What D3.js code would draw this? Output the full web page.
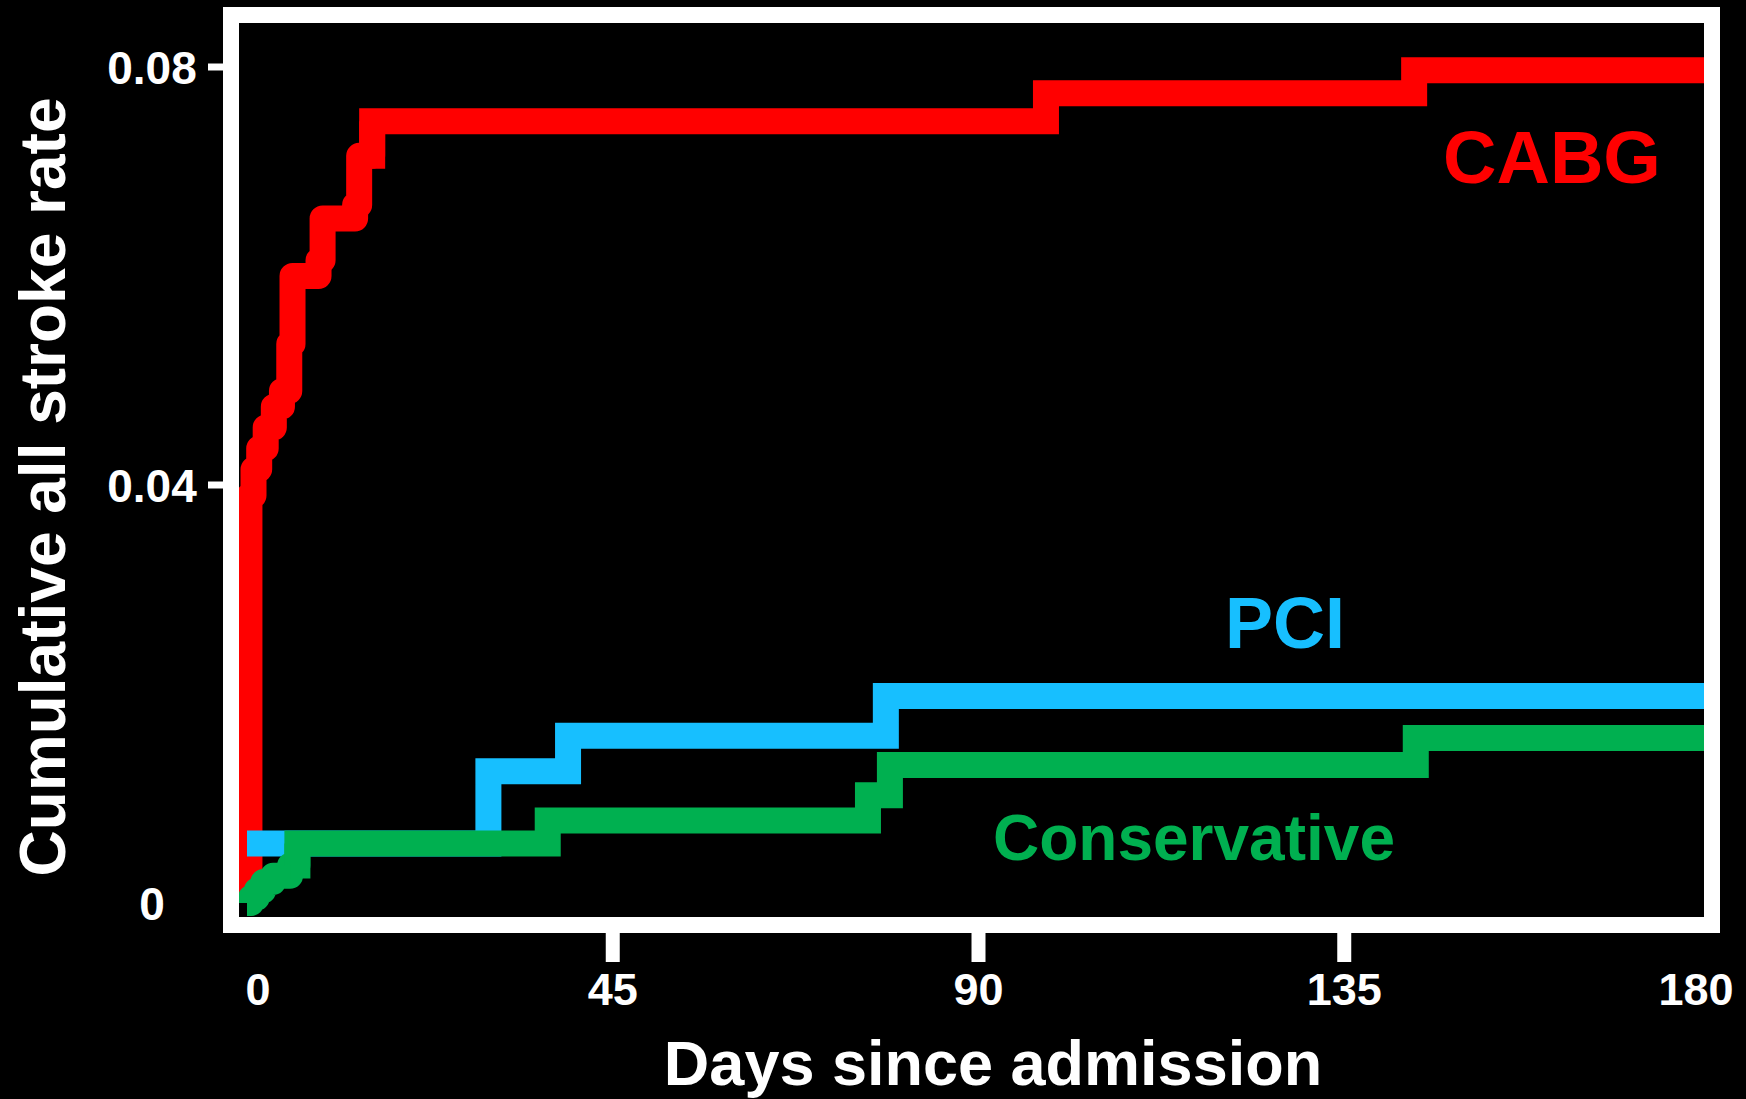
<!DOCTYPE html>
<html lang="en">
<head>
<meta charset="UTF-8">
<title>Cumulative all stroke rate</title>
<script src="https://d3js.org/d3.v7.min.js"></script>
<style>
  body { margin: 0; background: #000; }
  svg { display: block; font-family: "Liberation Sans", Arial, sans-serif; font-weight: bold; }
</style>
</head>
<body>
<svg id="chart" width="1746" height="1099"></svg>
<script>
// tick values
const xTickMarks = [45, 90, 135];
const xTickLabels = [0, 45, 90, 135, 180];
const yTickMarks = [0.04, 0.08];
const yTickLabels = [0, 0.04, 0.08];

// CABG (step points: day, cumulative rate)
const cabgDays = [0, 0.3, 0.8, 1.5, 2.3, 3.3, 4.3, 5.2, 5.6, 8.8, 9.3, 13.3, 13.8, 15.4, 98.3, 143.6, 180];
const cabgRate = [0, 0.0390, 0.0415, 0.0435, 0.0455, 0.0475, 0.0490, 0.0535, 0.0600, 0.0615, 0.0655, 0.0668, 0.0715, 0.0748, 0.0775, 0.0797, 0.0797];

// PCI
const pciDays = [0, 29.7, 39.5, 78.6, 180];
const pciRate = [0.0057, 0.0126, 0.0160, 0.0198, 0.0198];

// Conservative
const consDays = [0, 0.5, 1.2, 2.0, 3.2, 5.3, 6.2, 37.0, 76.4, 79.1, 143.8, 180];
const consRate = [0, 0.0005, 0.0012, 0.0020, 0.0026, 0.0036, 0.0057, 0.0079, 0.0103, 0.0132, 0.0158, 0.0158];

// early part (dense small steps) is drawn with rounded joins, like the original
const series = [
  { name: "CABG", days: cabgDays, rate: cabgRate, color: "#ff0000", early: 13 },
  { name: "PCI", days: pciDays, rate: pciRate, color: "#17bfff", early: 0 },
  { name: "Conservative", days: consDays, rate: consRate, color: "#00b050", early: 6 }
];

const svg = d3.select("#chart");
svg.append("rect").attr("width", 1746).attr("height", 1099).attr("fill", "#000");

const x = d3.scaleLinear().domain([0, 180]).range([247, 1710]);
const y = d3.scaleLinear().domain([0, 0.08]).range([903, 67]);

const line = d3.line()
  .x(d => x(d[0]))
  .y(d => y(d[1]))
  .curve(d3.curveStepAfter);

// curves
const curves = svg.append("g");
series.forEach(s => {
  const pts = s.days.map((d, i) => [d, s.rate[i]]);
  if (s.early > 0) {
    curves.append("path")
      .attr("d", line(pts.slice(0, s.early + 1)))
      .attr("fill", "none")
      .attr("stroke", s.color)
      .attr("stroke-width", 26)
      .attr("stroke-linejoin", "round")
      .attr("stroke-linecap", "butt");
  }
  curves.append("path")
    .attr("d", line(pts.slice(Math.max(0, s.early - 1))))
    .attr("fill", "none")
    .attr("stroke", s.color)
    .attr("stroke-width", 26)
    .attr("stroke-linejoin", "miter")
    .attr("stroke-linecap", "butt");
});

// x tick marks
svg.append("g")
  .selectAll("line")
  .data(xTickMarks)
  .join("line")
    .attr("x1", d => x(d)).attr("x2", d => x(d))
    .attr("y1", 925).attr("y2", 962)
    .attr("stroke", "#fff")
    .attr("stroke-width", 14);

// y tick marks
svg.append("g")
  .selectAll("line")
  .data(yTickMarks)
  .join("line")
    .attr("x1", 208).attr("x2", 226)
    .attr("y1", d => y(d)).attr("y2", d => y(d))
    .attr("stroke", "#fff")
    .attr("stroke-width", 7);

// frame
svg.append("rect")
  .attr("x", 231).attr("y", 15)
  .attr("width", 1481).attr("height", 910)
  .attr("fill", "none")
  .attr("stroke", "#fff")
  .attr("stroke-width", 16);

// tick labels
svg.append("g")
  .selectAll("text")
  .data(xTickLabels)
  .join("text")
    .attr("x", d => x(d))
    .attr("dx", (d, i) => i === 0 ? 11 : (i === xTickLabels.length - 1 ? -14 : 0))
    .attr("y", 1005)
    .attr("text-anchor", "middle")
    .attr("fill", "#fff")
    .attr("font-size", 45)
    .text(d => d);

svg.append("g")
  .selectAll("text")
  .data(yTickLabels)
  .join("text")
    .attr("x", 152)
    .attr("y", d => y(d))
    .attr("dy", "0.36em")
    .attr("text-anchor", "middle")
    .attr("fill", "#fff")
    .attr("font-size", 46)
    .text(d => d);

// axis titles
svg.append("text")
  .attr("x", 993).attr("y", 1085)
  .attr("text-anchor", "middle")
  .attr("fill", "#fff")
  .attr("font-size", 63)
  .text("Days since admission");

svg.append("text")
  .attr("transform", "translate(65,487) rotate(-90)")
  .attr("text-anchor", "middle")
  .attr("fill", "#fff")
  .attr("font-size", 64)
  .text("Cumulative all stroke rate");

// series labels
const labelPos = { CABG: [1443, 183, 74], PCI: [1225, 648, 72], Conservative: [993, 860, 64] };
svg.append("g")
  .selectAll("text")
  .data(series)
  .join("text")
    .attr("x", s => labelPos[s.name][0])
    .attr("y", s => labelPos[s.name][1])
    .attr("font-size", s => labelPos[s.name][2])
    .attr("fill", s => s.color)
    .text(s => s.name);
</script>
</body>
</html>
